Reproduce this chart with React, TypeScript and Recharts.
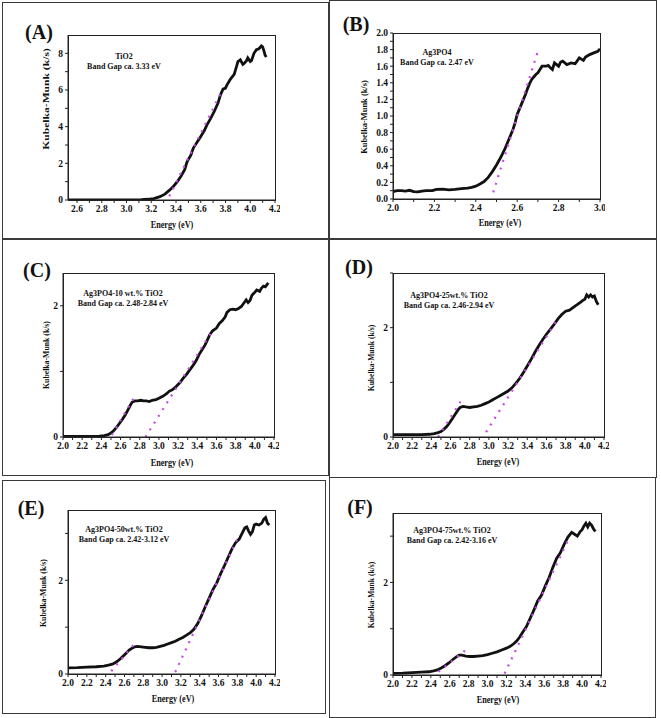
import React from "react";
import { LineChart, Line, XAxis, YAxis } from "recharts";

const serif = "Liberation Serif, Times New Roman, serif";
const FIT = "#c64ce6";

// (A) TiO2
const tio2Energy = [2.53, 2.7, 2.9, 3.05, 3.12, 3.17, 3.22, 3.27, 3.31, 3.35, 3.38, 3.41, 3.44, 3.47, 3.49, 3.52, 3.54, 3.57, 3.6, 3.63, 3.65, 3.68, 3.71, 3.74, 3.76, 3.78, 3.8, 3.81, 3.84, 3.87, 3.89, 3.9, 3.92, 3.94, 3.95, 3.97, 3.98, 4.0, 4.01, 4.03, 4.05, 4.07, 4.09, 4.1, 4.11, 4.12, 4.13];
const tio2KM = [0.0, 0.0, 0.0, 0.01, 0.02, 0.04, 0.08, 0.18, 0.32, 0.55, 0.75, 1.0, 1.3, 1.65, 2.1, 2.45, 2.83, 3.15, 3.47, 3.8, 4.1, 4.45, 4.84, 5.3, 5.75, 6.05, 6.1, 6.25, 6.6, 6.85, 7.3, 7.55, 7.65, 7.4, 7.45, 7.6, 7.75, 7.55, 7.6, 8.0, 8.2, 8.25, 8.4, 8.35, 8.15, 7.9, 7.8];
const tio2FitEnergy = [3.345, 3.76];
const tio2FitKM = [0.2, 5.8];

// (B) Ag3PO4
const agEnergy = [2.0, 2.02, 2.04, 2.06, 2.08, 2.1, 2.12, 2.14, 2.16, 2.19, 2.21, 2.24, 2.27, 2.3, 2.33, 2.36, 2.38, 2.4, 2.42, 2.44, 2.46, 2.48, 2.5, 2.52, 2.54, 2.55, 2.56, 2.57, 2.58, 2.59, 2.6, 2.61, 2.62, 2.63, 2.64, 2.65, 2.66, 2.67, 2.68, 2.69, 2.7, 2.71, 2.72, 2.74, 2.75, 2.76, 2.77, 2.78, 2.8, 2.81, 2.82, 2.84, 2.86, 2.88, 2.9, 2.92, 2.93, 2.95, 2.97, 2.99, 3.0];
const agKM = [0.09, 0.1, 0.1, 0.095, 0.105, 0.09, 0.085, 0.095, 0.1, 0.1, 0.115, 0.12, 0.11, 0.115, 0.125, 0.13, 0.14, 0.155, 0.18, 0.21, 0.26, 0.33, 0.41, 0.5, 0.6, 0.66, 0.72, 0.78, 0.84, 0.92, 1.02, 1.08, 1.14, 1.2, 1.26, 1.33, 1.39, 1.44, 1.47, 1.5, 1.52, 1.56, 1.6, 1.6, 1.61, 1.58, 1.56, 1.64, 1.6, 1.65, 1.66, 1.62, 1.64, 1.63, 1.7, 1.67, 1.71, 1.74, 1.76, 1.78, 1.81];
const agFitEnergy = [2.484, 2.705];
const agFitKM = [0.08, 1.82];

// (C) Ag3PO4-10 wt.% TiO2
const c10Energy = [2.0, 2.1, 2.2, 2.3, 2.38, 2.43, 2.47, 2.5, 2.53, 2.56, 2.59, 2.62, 2.65, 2.68, 2.7, 2.72, 2.75, 2.78, 2.81, 2.84, 2.87, 2.9, 2.93, 2.97, 3.0, 3.04, 3.08, 3.11, 3.14, 3.18, 3.22, 3.25, 3.29, 3.32, 3.36, 3.39, 3.42, 3.45, 3.48, 3.5, 3.53, 3.56, 3.6, 3.63, 3.66, 3.69, 3.71, 3.74, 3.77, 3.8, 3.83, 3.86, 3.89, 3.91, 3.93, 3.95, 3.97, 3.99, 4.02, 4.05, 4.07, 4.09, 4.11, 4.14];
const c10KM = [0.01, 0.01, 0.008, 0.008, 0.012, 0.02, 0.035, 0.06, 0.1, 0.15, 0.21, 0.27, 0.34, 0.42, 0.48, 0.53, 0.55, 0.55, 0.56, 0.55, 0.55, 0.54, 0.56, 0.57, 0.59, 0.62, 0.66, 0.7, 0.72, 0.77, 0.83, 0.89, 0.96, 1.02, 1.1, 1.17, 1.26, 1.33, 1.4, 1.46, 1.56, 1.62, 1.66, 1.73, 1.77, 1.83, 1.9, 1.94, 1.95, 1.94, 1.96, 1.99, 2.05, 2.09, 2.05, 2.08, 2.16, 2.19, 2.24, 2.22, 2.27, 2.3, 2.29, 2.35];
const c10FitAEnergy = [2.51, 2.74];
const c10FitAKM = [0.03, 0.6];
const c10FitBEnergy = [2.86, 3.54];
const c10FitBKM = [0.0, 1.58];

// (D) Ag3PO4-25wt.% TiO2
const c25Energy = [2.0, 2.1, 2.2, 2.3, 2.38, 2.43, 2.47, 2.5, 2.53, 2.56, 2.59, 2.62, 2.65, 2.68, 2.7, 2.73, 2.76, 2.8, 2.84, 2.88, 2.92, 2.96, 3.0, 3.04, 3.08, 3.12, 3.16, 3.2, 3.24, 3.28, 3.32, 3.36, 3.4, 3.44, 3.48, 3.52, 3.56, 3.6, 3.64, 3.68, 3.72, 3.76, 3.8, 3.84, 3.88, 3.92, 3.95, 3.98, 4.0, 4.02, 4.04, 4.06, 4.08, 4.1, 4.12, 4.14];
const c25KM = [0.045, 0.045, 0.042, 0.045, 0.05, 0.06, 0.08, 0.1, 0.14, 0.19, 0.26, 0.34, 0.42, 0.5, 0.54, 0.56, 0.55, 0.54, 0.55, 0.56, 0.58, 0.61, 0.64, 0.68, 0.72, 0.76, 0.8, 0.84, 0.9, 0.98, 1.07, 1.18, 1.3, 1.42, 1.55, 1.67, 1.78, 1.88, 1.97, 2.06, 2.16, 2.24, 2.3, 2.32, 2.37, 2.42, 2.46, 2.5, 2.52, 2.6, 2.56, 2.6, 2.56, 2.58, 2.48, 2.42];
const c25FitAEnergy = [2.47, 2.73];
const c25FitAKM = [0.0, 0.72];
const c25FitBEnergy = [2.97, 3.71];
const c25FitBKM = [0.09, 2.14];

// (E) Ag3PO4-50wt.% TiO2
const c50Energy = [2.0, 2.1, 2.2, 2.3, 2.38, 2.43, 2.47, 2.5, 2.53, 2.56, 2.59, 2.62, 2.65, 2.68, 2.71, 2.74, 2.78, 2.82, 2.86, 2.9, 2.94, 2.98, 3.02, 3.06, 3.1, 3.14, 3.18, 3.22, 3.26, 3.3, 3.34, 3.38, 3.42, 3.46, 3.5, 3.54, 3.58, 3.62, 3.66, 3.7, 3.74, 3.78, 3.82, 3.85, 3.88, 3.9, 3.92, 3.94, 3.96, 3.98, 4.0, 4.03, 4.06, 4.08, 4.1, 4.12, 4.14];
const c50KM = [0.13, 0.135, 0.145, 0.155, 0.17, 0.19, 0.21, 0.24, 0.28, 0.33, 0.39, 0.45, 0.51, 0.55, 0.58, 0.59, 0.58, 0.57, 0.56, 0.56, 0.57, 0.59, 0.61, 0.64, 0.67, 0.7, 0.74, 0.78, 0.83, 0.88, 0.96, 1.08, 1.25, 1.44, 1.62, 1.8, 1.94, 2.13, 2.3, 2.48, 2.66, 2.8, 2.88, 3.0, 3.12, 3.14, 3.05, 2.98, 3.04, 3.18, 3.2, 3.18, 3.22, 3.3, 3.34, 3.22, 3.18];
const c50FitAEnergy = [2.46, 2.73];
const c50FitAKM = [0.06, 0.7];
const c50FitBEnergy = [3.14, 3.81];
const c50FitBKM = [0.04, 2.93];

// (F) Ag3PO4-75wt.% TiO2
const c75Energy = [2.0, 2.1, 2.2, 2.3, 2.38, 2.43, 2.47, 2.51, 2.55, 2.59, 2.63, 2.67, 2.7, 2.73, 2.77, 2.81, 2.85, 2.9, 2.95, 3.0, 3.05, 3.1, 3.15, 3.2, 3.24, 3.28, 3.31, 3.34, 3.37, 3.41, 3.45, 3.49, 3.53, 3.57, 3.61, 3.65, 3.69, 3.73, 3.77, 3.81, 3.85, 3.89, 3.92, 3.95, 3.98, 4.0, 4.02, 4.04, 4.06, 4.08, 4.1, 4.12, 4.14];
const c75KM = [0.035, 0.04, 0.05, 0.06, 0.07, 0.09, 0.11, 0.15, 0.2, 0.26, 0.33, 0.39, 0.43, 0.43, 0.41, 0.4, 0.4, 0.41, 0.42, 0.44, 0.47, 0.5, 0.54, 0.58, 0.62, 0.68, 0.74, 0.82, 0.92, 1.04, 1.22, 1.4, 1.6, 1.72, 1.92, 2.1, 2.32, 2.52, 2.64, 2.82, 2.98, 3.08, 3.04, 3.0, 3.1, 3.14, 3.22, 3.28, 3.2, 3.28, 3.24, 3.16, 3.1];
const c75FitAEnergy = [2.48, 2.8];
const c75FitAKM = [0.07, 0.59];
const c75FitBEnergy = [3.18, 3.86];
const c75FitBKM = [0.03, 2.95];

// ticks
const xTicksA = [2.6, 2.7, 2.8, 2.9, 3.0, 3.1, 3.2, 3.3, 3.4, 3.5, 3.6, 3.7, 3.8, 3.9, 4.0, 4.1, 4.2];
const xLabelsA = [2.6, 2.8, 3.0, 3.2, 3.4, 3.6, 3.8, 4.0, 4.2];
const xTicksB = [2.0, 2.1, 2.2, 2.3, 2.4, 2.5, 2.6, 2.7, 2.8, 2.9, 3.0];
const xLabelsB = [2.0, 2.2, 2.4, 2.6, 2.8, 3.0];
const xTicksWide = [2.0, 2.1, 2.2, 2.3, 2.4, 2.5, 2.6, 2.7, 2.8, 2.9, 3.0, 3.1, 3.2, 3.3, 3.4, 3.5, 3.6, 3.7, 3.8, 3.9, 4.0, 4.1, 4.2];
const xLabelsWide = [2.0, 2.2, 2.4, 2.6, 2.8, 3.0, 3.2, 3.4, 3.6, 3.8, 4.0, 4.2];
const yTicksA = [0, 1, 2, 3, 4, 5, 6, 7, 8];
const yLabelsA = [0, 2, 4, 6, 8];
const yTicksB = [0, 0.1, 0.2, 0.3, 0.4, 0.5, 0.6, 0.7, 0.8, 0.9, 1.0, 1.1, 1.2, 1.3, 1.4, 1.5, 1.6, 1.7, 1.8, 1.9, 2.0];
const yLabelsB = [0, 0.2, 0.4, 0.6, 0.8, 1.0, 1.2, 1.4, 1.6, 1.8, 2.0];
const yTicksC = [0, 1, 2];
const yTicksDEF = [0, 1, 2, 3];
const yLabelsMixed = [0, 2];

type Pt = { x: number; y: number };
const zip = (xs: number[], ys: number[]): Pt[] => xs.map((x, i) => ({ x, y: ys[i] }));

type PanelProps = {
  letter: string;
  letterAt: [number, number];
  box: [number, number, number, number];
  plot: [number, number, number, number];
  xDomain: [number, number];
  yDomain: [number, number];
  xTicks: number[];
  xLabels: number[];
  yTicks: number[];
  yLabels: number[];
  yDigits: number;
  curve: Pt[];
  fits: Pt[][];
  notes: string[];
  notesAt: [number, number];
  xTitleAt: [number, number];
  yTitleAt: [number, number];
  yTitleScale: number;
};

const YW = 30;
const XH = 20;
const MT = 5;
const MR = 5;
const tickStyle = { fontSize: 9.5, fontWeight: "bold", fontFamily: serif, fill: "#111" };

const Centered = ({ at, style, children }: { at: [number, number]; style?: React.CSSProperties; children: React.ReactNode }) => (
  <div
    style={{
      position: "absolute",
      left: at[0],
      top: at[1],
      transform: "translate(-50%, -50%)",
      whiteSpace: "nowrap",
      fontFamily: serif,
      fontWeight: "bold",
      color: "#111",
      ...style,
    }}
  >
    {children}
  </div>
);

const Panel = (p: PanelProps) => {
  const [pl, pt, pr, pb] = p.plot;
  const [bl, bt, br, bb] = p.box;
  return (
    <div style={{ position: "absolute", left: 0, top: 0 }}>
      <div
        style={{
          position: "absolute",
          left: bl,
          top: bt,
          width: br - bl,
          height: bb - bt,
          border: "1.5px solid #3a3a3a",
          boxSizing: "border-box",
        }}
      />
      {/* plot frame, drawn under the chart */}
      <div
        style={{
          position: "absolute",
          left: pl,
          top: pt,
          width: pr - pl + 1,
          height: pb - pt + 1,
          border: "1.2px solid #222",
          boxSizing: "border-box",
        }}
      />
      <div style={{ position: "absolute", left: pl - YW, top: pt - MT }}>
        <LineChart width={pr - pl + YW + MR} height={pb - pt + MT + XH} margin={{ top: MT, right: MR, bottom: 0, left: 0 }}>
          <XAxis
            dataKey="x"
            type="number"
            domain={p.xDomain}
            ticks={p.xTicks}
            interval={0}
            allowDataOverflow
            height={XH}
            tickSize={3}
            stroke="#222"
            tick={tickStyle}
            tickFormatter={(v: number) => (p.xLabels.includes(v) ? v.toFixed(1) : "")}
          />
          <YAxis
            dataKey="y"
            type="number"
            domain={p.yDomain}
            ticks={p.yTicks}
            interval={0}
            allowDataOverflow
            width={YW}
            tickSize={3}
            stroke="#222"
            tick={tickStyle}
            tickFormatter={(v: number) => (p.yLabels.includes(v) ? v.toFixed(p.yDigits) : "")}
          />
          <Line data={p.curve} dataKey="y" type="linear" stroke="#111" strokeWidth={2.8} dot={false} isAnimationActive={false} />
          {p.fits.map((f, i) => (
            <Line key={i} data={f} dataKey="y" type="linear" stroke={FIT} strokeWidth={2.2} strokeDasharray="2 6" dot={false} isAnimationActive={false} />
          ))}
        </LineChart>
      </div>
      <Centered at={p.letterAt} style={{ fontSize: 20 }}>
        {p.letter}
      </Centered>
      <Centered at={p.notesAt} style={{ fontSize: 8, lineHeight: "10px", textAlign: "center" }}>
        {p.notes.map((n) => (
          <div key={n}>{n}</div>
        ))}
      </Centered>
      <Centered at={p.xTitleAt} style={{ fontSize: 10, transform: "translate(-50%, -50%) scaleX(0.82)" }}>
        Energy (eV)
      </Centered>
      <Centered at={p.yTitleAt} style={{ fontSize: 8, transform: `translate(-50%, -50%) rotate(-90deg) scaleX(${p.yTitleScale})` }}>
        Kubelka-Munk (k/s)
      </Centered>
    </div>
  );
};

export default function App() {
  return (
    <div style={{ position: "absolute", left: 0, top: 0, width: 661, height: 718, background: "#fff", overflow: "hidden" }}>
      <Panel
        letter="(A)"
        letterAt={[39, 32]}
        box={[2, 2, 329, 239]}
        plot={[68, 35, 275, 200]}
        xDomain={[2.527, 4.2]}
        yDomain={[0, 9]}
        xTicks={xTicksA}
        xLabels={xLabelsA}
        yTicks={yTicksA}
        yLabels={yLabelsA}
        yDigits={0}
        curve={zip(tio2Energy, tio2KM)}
        fits={[zip(tio2FitEnergy, tio2FitKM)]}
        notes={["TiO2", "Band Gap ca. 3.33 eV"]}
        notesAt={[124, 62]}
        xTitleAt={[172, 224]}
        yTitleAt={[46, 99]}
        yTitleScale={1.45}
      />
      <Panel
        letter="(B)"
        letterAt={[356, 24]}
        box={[329, 0, 657, 239]}
        plot={[393, 33, 600, 199]}
        xDomain={[2.0, 3.0]}
        yDomain={[0, 2.0]}
        xTicks={xTicksB}
        xLabels={xLabelsB}
        yTicks={yTicksB}
        yLabels={yLabelsB}
        yDigits={1}
        curve={zip(agEnergy, agKM)}
        fits={[zip(agFitEnergy, agFitKM)]}
        notes={["Ag3PO4", "Band Gap ca. 2.47 eV"]}
        notesAt={[437, 58]}
        xTitleAt={[500, 222]}
        yTitleAt={[364, 117]}
        yTitleScale={1.05}
      />
      <Panel
        letter="(C)"
        letterAt={[37, 270]}
        box={[2, 239, 329, 476]}
        plot={[63, 273, 274, 437]}
        xDomain={[2.0, 4.2]}
        yDomain={[0, 2.5]}
        xTicks={xTicksWide}
        xLabels={xLabelsWide}
        yTicks={yTicksC}
        yLabels={yLabelsMixed}
        yDigits={0}
        curve={zip(c10Energy, c10KM)}
        fits={[zip(c10FitAEnergy, c10FitAKM), zip(c10FitBEnergy, c10FitBKM)]}
        notes={["Ag3PO4-10 wt.% TiO2", "Band Gap ca. 2.48-2.84 eV"]}
        notesAt={[123, 299]}
        xTitleAt={[172, 462]}
        yTitleAt={[46, 355]}
        yTitleScale={0.97}
      />
      <Panel
        letter="(D)"
        letterAt={[359, 267]}
        box={[329, 239, 657, 478]}
        plot={[393, 273, 604, 437]}
        xDomain={[2.0, 4.2]}
        yDomain={[0, 3]}
        xTicks={xTicksWide}
        xLabels={xLabelsWide}
        yTicks={yTicksDEF}
        yLabels={yLabelsMixed}
        yDigits={0}
        curve={zip(c25Energy, c25KM)}
        fits={[zip(c25FitAEnergy, c25FitAKM), zip(c25FitBEnergy, c25FitBKM)]}
        notes={["Ag3PO4-25wt.% TiO2", "Band Gap ca. 2.46-2.94 eV"]}
        notesAt={[449, 301]}
        xTitleAt={[498, 461]}
        yTitleAt={[371, 358]}
        yTitleScale={0.95}
      />
      <Panel
        letter="(E)"
        letterAt={[31, 508]}
        box={[2, 480, 326, 714]}
        plot={[68, 510, 275, 674]}
        xDomain={[2.0, 4.2]}
        yDomain={[0, 3.5]}
        xTicks={xTicksWide}
        xLabels={xLabelsWide}
        yTicks={yTicksDEF}
        yLabels={yLabelsMixed}
        yDigits={0}
        curve={zip(c50Energy, c50KM)}
        fits={[zip(c50FitAEnergy, c50FitAKM), zip(c50FitBEnergy, c50FitBKM)]}
        notes={["Ag3PO4-50wt.% TiO2", "Band Gap ca. 2.42-3.12 eV"]}
        notesAt={[124, 535]}
        xTitleAt={[173, 698]}
        yTitleAt={[43, 593]}
        yTitleScale={0.97}
      />
      <Panel
        letter="(F)"
        letterAt={[360, 507]}
        box={[329, 477, 656, 718]}
        plot={[393, 513, 601, 675]}
        xDomain={[2.0, 4.2]}
        yDomain={[0, 3.5]}
        xTicks={xTicksWide}
        xLabels={xLabelsWide}
        yTicks={yTicksDEF}
        yLabels={yLabelsMixed}
        yDigits={0}
        curve={zip(c75Energy, c75KM)}
        fits={[zip(c75FitAEnergy, c75FitAKM), zip(c75FitBEnergy, c75FitBKM)]}
        notes={["Ag3PO4-75wt.% TiO2", "Band Gap ca. 2.42-3.16 eV"]}
        notesAt={[452, 536]}
        xTitleAt={[498, 699]}
        yTitleAt={[371, 595]}
        yTitleScale={0.95}
      />
    </div>
  );
}
